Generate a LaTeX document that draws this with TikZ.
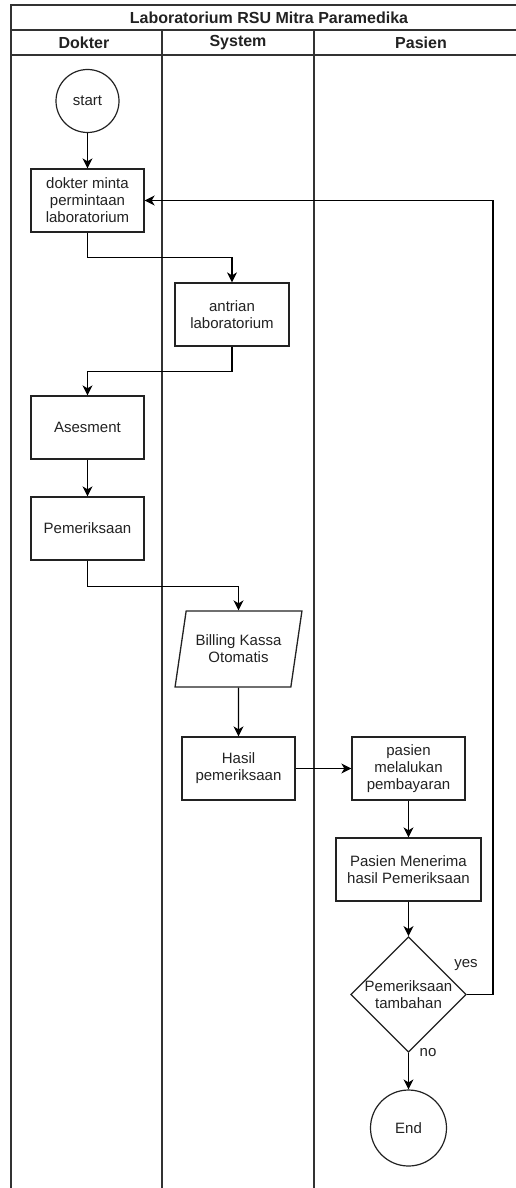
\documentclass[tikz,border=0pt]{standalone}
\usepackage{fontspec}
\setmainfont{Liberation Sans}
\usetikzlibrary{arrows.meta,shapes.geometric}
\definecolor{ink}{RGB}{34,34,34}
\definecolor{lane}{RGB}{50,50,50}
\begin{document}
\begin{tikzpicture}[x=1pt,y=-1pt,
  txt/.style={font=\fontsize{15}{17}\selectfont,text=ink,align=center},
  box/.style={txt,draw=ink,line width=1.3pt,rectangle,minimum width=113pt,minimum height=63pt,inner sep=2pt},
  startend/.style={txt,draw=ink,line width=1.2pt,circle,inner sep=0pt},
  para/.style={txt,draw=ink,line width=1.3pt,trapezium,trapezium stretches=true,trapezium left angle=72,trapezium right angle=108,minimum width=127pt,minimum height=76pt,inner sep=0pt},
  decision/.style={txt,draw=ink,line width=1.3pt,diamond,minimum width=113pt,minimum height=113pt,inner sep=0pt},
  lanes/.style={draw=lane,line width=1.3pt},
  hdr/.style={font=\bfseries\fontsize{16}{19}\selectfont,text=ink},
  arr/.style={draw=black,line width=1.3pt,-{Stealth[length=10pt,width=10pt,inset=3pt]}},
  lbl/.style={font=\fontsize{15}{17}\selectfont,text=ink}
]
\useasboundingbox (0,0) rectangle (516,1188);
\fill[white] (0,0) rectangle (516,1188);
% pool and lanes
\draw[lanes] (527,5) -- (11,5) -- (11,1188);
\draw[lanes] (11,30) -- (527,30);
\draw[lanes] (11,55) -- (527,55);
\draw[lanes] (162,30) -- (162,1188);
\draw[lanes] (314,30) -- (314,1188);
\draw[lanes] (527,5) -- (527,1188);
\node[hdr] (title) at (269,17.5) {Laboratorium RSU Mitra Paramedika};
\node[hdr] (hdok) at (84,42.5) {Dokter};
\node[hdr] (hsys) at (238,42.5) {System};
\node[hdr] (hpas) at (421,42.5) {Pasien};
% nodes
\node[startend,minimum size=63pt] (start) at (87.5,101) {start};
\node[box] (dokter) at (87.5,200.5) {dokter minta\\permintaan\\laboratorium};
\node[box,minimum width=114pt] (antrian) at (232,314.5) {antrian\\laboratorium};
\node[box] (asess) at (87.5,427.5) {Asesment};
\node[box] (pem) at (87.5,528.5) {Pemeriksaan};
\node[para] (billing) at (238.5,649) {Billing Kassa\\Otomatis};
\node[box] (hasil) at (238.5,768.5) {Hasil\\pemeriksaan};
\node[box] (pasien) at (408.5,768.5) {pasien\\melalukan\\pembayaran};
\node[box,minimum width=145pt] (terima) at (408.5,869.5) {Pasien Menerima\\hasil Pemeriksaan};
\node[decision] (tambah) at (408.5,994.5) {Pemeriksaan\\tambahan};
\node[startend,minimum size=76pt] (end) at (408.5,1128) {End};
% connectors
\draw[arr] (start) -- (dokter);
\draw[arr] (dokter.south) -- ++(0,25) -| (antrian.north);
\draw[arr] (antrian.south) -- ++(0,25) -| (asess.north);
\draw[arr] (asess) -- (pem);
\draw[arr] (pem.south) -- ++(0,26) -| (billing);
\draw[arr] (billing) -- (hasil);
\draw[arr] (hasil) -- (pasien);
\draw[arr] (pasien) -- (terima);
\draw[arr] (terima) -- (tambah);
\draw[arr] (tambah.east) -- ++(26,0) |- (dokter.east);
\draw[arr] (tambah) -- (end);
\node[lbl] (yes) at (466,965) {yes};
\node[lbl] (no) at (428,1053) {no};
\end{tikzpicture}
\end{document}
